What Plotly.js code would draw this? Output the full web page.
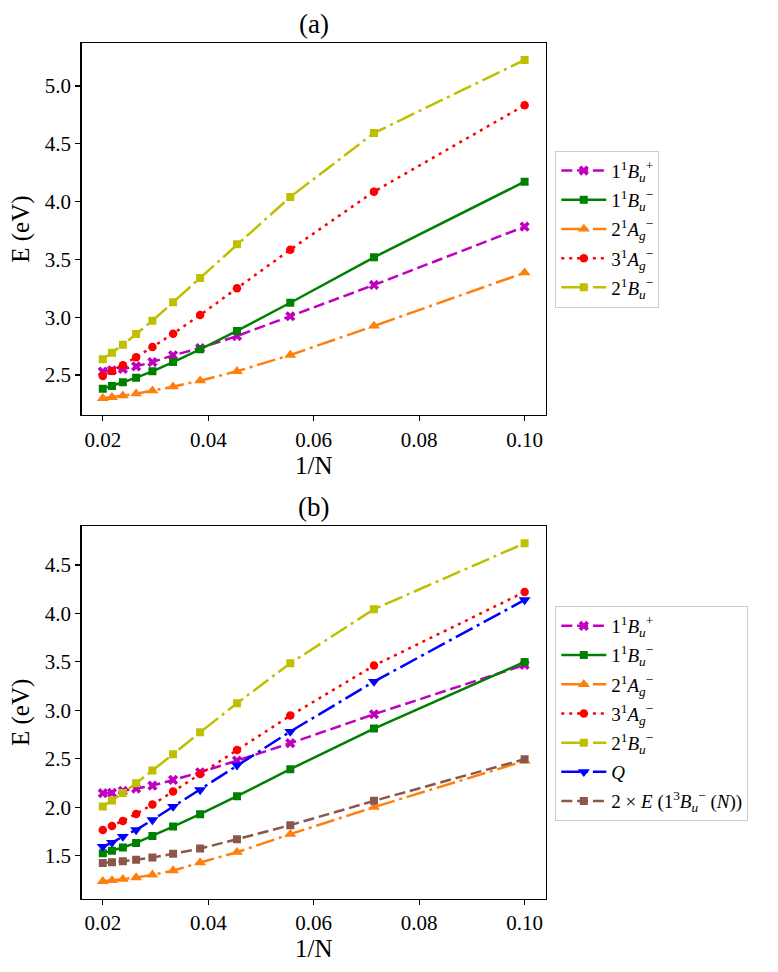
<!DOCTYPE html>
<html>
<head>
<meta charset="utf-8">
<script src="https://cdn.plot.ly/plotly-3.0.1.min.js"></script>
<style>
html,body{margin:0;padding:0;background:#fff;}
#chart{width:778px;height:972px;}
</style>
</head>
<body>
<div id="chart"></div>
<script>
// x values: 1/N for N = 50, 46, 42, 38, 34, 30, 26, 22, 18, 14, 10
var invN = [0.02, 0.02174, 0.02381, 0.02632, 0.02941, 0.03333, 0.03846, 0.04545, 0.05556, 0.07143, 0.1];

// Panel (a)
var a_1Bu_plus  = [2.529, 2.540, 2.552, 2.575, 2.612, 2.670, 2.733, 2.837, 3.008, 3.279, 3.783];
var a_1Bu_minus = [2.382, 2.405, 2.437, 2.477, 2.532, 2.612, 2.722, 2.881, 3.125, 3.518, 4.172];
var a_2Ag_minus = [2.298, 2.307, 2.321, 2.338, 2.364, 2.399, 2.451, 2.532, 2.673, 2.924, 3.385];
var a_3Ag_minus = [2.491, 2.535, 2.584, 2.653, 2.742, 2.857, 3.019, 3.250, 3.584, 4.086, 4.833];
var a_2Bu_minus = [2.636, 2.693, 2.762, 2.855, 2.970, 3.129, 3.339, 3.630, 4.040, 4.593, 5.225];

// Panel (b)
var b_1Bu_plus  = [2.144, 2.147, 2.168, 2.192, 2.222, 2.281, 2.360, 2.480, 2.660, 2.959, 3.468];
var b_1Bu_minus = [1.525, 1.549, 1.583, 1.631, 1.703, 1.799, 1.927, 2.113, 2.392, 2.811, 3.499];
var b_2Ag_minus = [1.234, 1.243, 1.256, 1.273, 1.301, 1.345, 1.428, 1.535, 1.721, 2.000, 2.477];
var b_3Ag_minus = [1.765, 1.806, 1.858, 1.930, 2.027, 2.161, 2.343, 2.591, 2.945, 3.461, 4.221];
var b_2Bu_minus = [2.006, 2.068, 2.147, 2.247, 2.377, 2.546, 2.773, 3.072, 3.485, 4.043, 4.724];
var b_Q         = [1.593, 1.634, 1.696, 1.765, 1.868, 2.006, 2.178, 2.433, 2.780, 3.296, 4.139];
var b_2x3Bu     = [1.424, 1.432, 1.442, 1.456, 1.479, 1.518, 1.572, 1.669, 1.814, 2.065, 2.495];

var xTickVals = [0.02, 0.04, 0.06, 0.08, 0.10];
var xTickText = ["0.02", "0.04", "0.06", "0.08", "0.10"];

var labels = {
  bp: "1<sup>1</sup><i>B</i><sub><i>u</i></sub><sup>+</sup>",
  bm: "1<sup>1</sup><i>B</i><sub><i>u</i></sub><sup>−</sup>",
  ag2: "2<sup>1</sup><i>A</i><sub><i>g</i></sub><sup>−</sup>",
  ag3: "3<sup>1</sup><i>A</i><sub><i>g</i></sub><sup>−</sup>",
  bm2: "2<sup>1</sup><i>B</i><sub><i>u</i></sub><sup>−</sup>",
  q: "<i>Q</i>",
  t: "2 × <i>E</i> (1<sup>3</sup><i>B</i><sub><i>u</i></sub><sup>−</sup> (<i>N</i>))"
};

var LW = 2.5;
var DASH = "11px,4.8px";
var DASHDOT = "19px,4.8px,3px,4.8px";
var DOT = "3px,4.9px";

var styles = {
  bp:  {color: "#bf00bf", dash: DASH,    symbol: "x",             size: 9},
  bm:  {color: "#008000", dash: "solid", symbol: "square",        size: 8},
  ag2: {color: "#ff7f0e", dash: DASHDOT, symbol: "triangle-up",   size: 10.5},
  ag3: {color: "#ff0000", dash: DOT,     symbol: "circle",        size: 8.5},
  bm2: {color: "#bfbf00", dash: DASHDOT, symbol: "square",        size: 8},
  q:   {color: "#0000ff", dash: DASHDOT, symbol: "triangle-down", size: 10.5},
  t:   {color: "#8c564b", dash: DASH,    symbol: "square",        size: 8}
};

function tr(key, yv, xa, ya, leg) {
  var s = styles[key];
  return {
    x: invN, y: yv, xaxis: xa, yaxis: ya, legend: leg,
    legendgroup: leg + key,
    type: "scatter", mode: "lines+markers", name: labels[key],
    line: {color: s.color, width: LW, dash: s.dash},
    marker: {color: s.color, symbol: s.symbol, size: s.size, line: {width: 0}}
  };
}

var data = [
  tr("bp", a_1Bu_plus, "x", "y", "legend"),
  tr("bm", a_1Bu_minus, "x", "y", "legend"),
  tr("ag2", a_2Ag_minus, "x", "y", "legend"),
  tr("ag3", a_3Ag_minus, "x", "y", "legend"),
  tr("bm2", a_2Bu_minus, "x", "y", "legend"),
  tr("bp", b_1Bu_plus, "x2", "y2", "legend2"),
  tr("bm", b_1Bu_minus, "x2", "y2", "legend2"),
  tr("ag2", b_2Ag_minus, "x2", "y2", "legend2"),
  tr("ag3", b_3Ag_minus, "x2", "y2", "legend2"),
  tr("bm2", b_2Bu_minus, "x2", "y2", "legend2"),
  tr("q", b_Q, "x2", "y2", "legend2"),
  tr("t", b_2x3Bu, "x2", "y2", "legend2")
];

var FONT = "'Liberation Serif', 'DejaVu Serif', serif";
var W = 778, H = 972;
var xl = 81.7, xr = 545.7;
var aTop = 43.3, aBot = 415, bTop = 526.3, bBot = 898.5;

function xaxisDef(anchor) {
  return {
    domain: [xl / W, xr / W], anchor: anchor,
    range: [0.016, 0.104],
    tickvals: xTickVals, ticktext: xTickText,
    ticks: "outside", ticklen: 5, tickwidth: 1.2, tickcolor: "#000",
    showline: true, mirror: true, linecolor: "#000", linewidth: 1.4,
    showgrid: false, zeroline: false,
    tickfont: {family: FONT, size: 21, color: "#000"},
    title: {text: "1/N", font: {family: FONT, size: 25, color: "#000"}, standoff: 5}
  };
}
function yaxisDef(anchor, dom, rng) {
  return {
    domain: dom, anchor: anchor, range: rng,
    dtick: 0.5, tick0: 0, tickformat: ".1f",
    ticks: "outside", ticklen: 5, tickwidth: 1.2, tickcolor: "#000",
    showline: true, mirror: true, linecolor: "#000", linewidth: 1.4,
    showgrid: false, zeroline: false,
    tickfont: {family: FONT, size: 21, color: "#000"},
    title: {text: "E (eV)", font: {family: FONT, size: 25, color: "#000"}, standoff: 8}
  };
}

function legendDef(topPx) {
  return {
    x: 555.3 / W, xanchor: "left",
    y: 1 - topPx / H, yanchor: "top",
    bgcolor: "rgba(255,255,255,0.8)", bordercolor: "#cccccc", borderwidth: 1,
    font: {family: FONT, size: 19, color: "#000"},
    itemwidth: 45, tracegroupgap: 1.5, traceorder: "grouped"
  };
}

var layout = {
  width: W, height: H,
  margin: {l: 0, r: 0, t: 0, b: 0},
  paper_bgcolor: "#fff", plot_bgcolor: "#fff",
  font: {family: FONT, color: "#000"},
  xaxis: xaxisDef("y"),
  yaxis: yaxisDef("x", [1 - aBot / H, 1 - aTop / H], [2.154, 5.369]),
  xaxis2: xaxisDef("y2"),
  yaxis2: yaxisDef("x2", [1 - bBot / H, 1 - bTop / H], [1.057, 4.899]),
  legend: legendDef(150.7),
  legend2: legendDef(606),
  showlegend: true,
  annotations: [
    {text: "(a)", xref: "paper", yref: "paper", x: (xl + xr) / 2 / W, y: 1 - aTop / H,
     xanchor: "center", yanchor: "bottom", yshift: 2, showarrow: false,
     font: {family: FONT, size: 27, color: "#000"}},
    {text: "(b)", xref: "paper", yref: "paper", x: (xl + xr) / 2 / W, y: 1 - bTop / H,
     xanchor: "center", yanchor: "bottom", yshift: 2, showarrow: false,
     font: {family: FONT, size: 27, color: "#000"}}
  ]
};

Plotly.newPlot("chart", data, layout, {displayModeBar: false, staticPlot: true});
</script>
</body>
</html>
